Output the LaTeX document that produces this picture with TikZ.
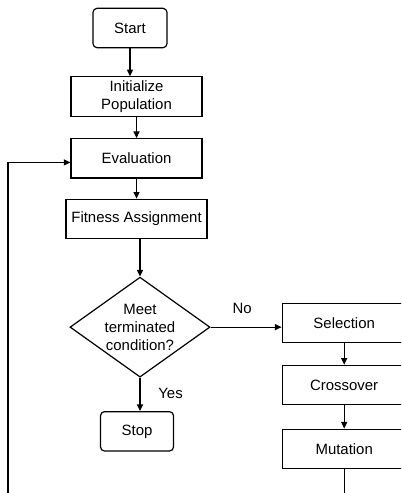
\documentclass[tikz,border=0pt]{standalone}
\usepackage{fontspec}
\setmainfont{Liberation Sans}
\usetikzlibrary{positioning, arrows.meta, shapes.geometric}

\begin{document}
\begin{tikzpicture}[
    x=0.75pt, y=-0.75pt,
    font=\fontsize{11.2pt}{13.5pt}\selectfont,
    >={Triangle[length=5pt,width=4.5pt]},
    % Start / stop nodes
    terminal/.style={
        draw, line width=0.9pt,
        rectangle, rounded corners=3pt,
        minimum width=55.5pt, minimum height=29.5pt,
        inner ysep=1pt, align=center
    },
    % Process boxes
    process/.style={
        draw, line width=0.9pt,
        rectangle, inner xsep=2pt, inner ysep=1pt,
        minimum width=98.25pt, minimum height=29.5pt,
        align=center
    },
    % Decision diamond
    decision/.style={
        draw, line width=0.9pt,
        diamond, inner sep=-6pt,
        minimum width=105pt, minimum height=75pt,
        align=center
    },
    % Arrow style
    arrow/.style={->, line width=0.9pt}
]

\useasboundingbox (0,0) rectangle (401,493);
\clip (0,0) rectangle (401,493);

% Main column
\node[terminal] (start) at (130,28) {Start};
\node[process, below=21pt of start, xshift=4.9pt] (init) {Initialize\\Population};
\node[process, below=16pt of init] (eval) {Evaluation};
\node[process, minimum width=105.75pt, below=15pt of eval] (fitness) {Fitness Assignment};
\node[decision, below=28pt of fitness, xshift=2.6pt] (cond) {Meet\\terminated\\condition?};
\node[terminal, minimum width=54.75pt, below=25pt of cond, xshift=-2.25pt] (stop) {Stop};

% Right column
\node[process, minimum width=93pt, right=53.25pt of cond, yshift=3pt] (select) {Selection};
\node[process, minimum width=93pt, below=16pt of select] (cross) {Crossover};
\node[process, minimum width=93pt, below=17.5pt of cross] (mutate) {Mutation};

% Loop corner (outside the picture)
\coordinate (loopleft) at (8,530);

% Arrows down the main column
\draw[arrow] (start.south) -- (start.south |- init.north);
\draw[arrow] (init.south) -- (init.south |- eval.north);
\draw[arrow] (eval.south) -- (eval.south |- fitness.north);
\draw[arrow] (cond.north |- fitness.south) -- (cond.north);
\draw[arrow] (cond.south) -- node[right, xshift=10pt, yshift=1pt] {Yes} (cond.south |- stop.north);

% Arrows down the right column
\draw[arrow] (cond.east) -- node[above, yshift=6pt, xshift=-3pt] {No} (cond.east -| select.west);
\draw[arrow] (select) -- (cross);
\draw[arrow] (cross) -- (mutate);

% Feedback loop
\draw[arrow] (mutate.south) |- (loopleft) |- ([yshift=-3pt]eval.west);

\end{tikzpicture}
\end{document}
